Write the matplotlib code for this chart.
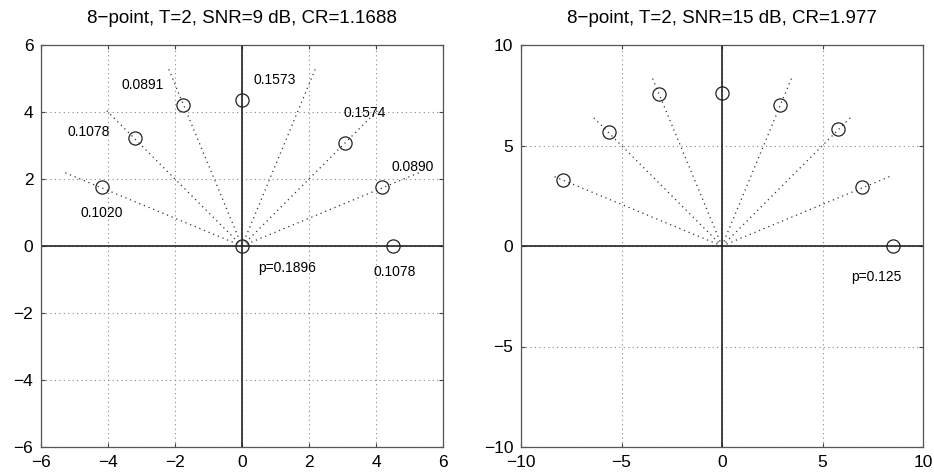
import numpy as np
import matplotlib
matplotlib.use("Agg")
import matplotlib.pyplot as plt

plt.rcParams['font.family'] = ['Liberation Sans', 'DejaVu Sans']
plt.rcParams['axes.unicode_minus'] = True

# left panel: SNR = 9 dB
left_x = [0.0, 4.5, 4.19, 3.06, 0.0, -1.75, -3.19, -4.17]
left_y = [0.0, 0.0, 1.75, 3.08, 4.36, 4.22, 3.21, 1.75]
left_ray_deg = [22.5, 45, 67.5, 112.5, 135, 157.5]
left_ray_len = 5.75
left_labels = ['p=0.1896', '0.1078', '0.0890', '0.1574', '0.1573', '0.0891', '0.1078', '0.1020']
left_lab_x = [1.35, 4.57, 5.11, 3.67, 0.99, -2.98, -4.59, -4.19]
left_lab_y = [-0.67, -0.77, 2.37, 3.98, 4.96, 4.81, 3.39, 0.98]
left_title = '8\u2212point, T=2, SNR=9 dB, CR=1.1688'

# right panel: SNR = 15 dB
right_x = [8.52, 6.98, 5.77, 2.89, 0.0, -3.12, -5.6, -7.9]
right_y = [0.0, 2.92, 5.8, 7.0, 7.6, 7.55, 5.66, 3.28]
right_ray_deg = [22.5, 45, 67.5, 112.5, 135, 157.5]
right_ray_len = 9.2
right_labels = ['p=0.125']
right_lab_x = [7.66]
right_lab_y = [-1.56]
right_title = '8\u2212point, T=2, SNR=15 dB, CR=1.977'


def panel(ax, xs, ys, rays, rlen, labels, lx, ly, title, lim, ticks):
    ax.set_xlim(-lim, lim)
    ax.set_ylim(-lim, lim)
    ax.set_xticks(ticks)
    ax.set_yticks(ticks)
    ax.grid(True, linestyle=(0, (1, 3)), color='#888888', linewidth=0.8)
    ax.set_axisbelow(True)
    for a in rays:
        t = np.radians(a)
        ax.plot([0, rlen * np.cos(t)], [0, rlen * np.sin(t)],
                linestyle=(0, (1, 3)), color='#333333', linewidth=0.9)
    ax.axhline(0, color='#222222', linewidth=1.2)
    ax.axvline(0, color='#222222', linewidth=1.2)
    ax.plot(xs, ys, 'o', mfc='none', mec='#222222', ms=9.5, mew=0.9)
    for s, x, y in zip(labels, lx, ly):
        ax.text(x, y, s, ha='center', va='center', fontsize=10)
    ax.set_title(title, fontsize=13.5, pad=16)
    ax.tick_params(direction='in', length=3, top=True, right=True,
                   labelsize=12.5, color='#444444', pad=5.5)
    for sp in ax.spines.values():
        sp.set_color('#555555')
        sp.set_linewidth(0.9)


fig = plt.figure(figsize=(9.34, 4.75), dpi=100)
ax1 = fig.add_axes([41 / 934, 28 / 475, 402 / 934, 402 / 475])
ax2 = fig.add_axes([521 / 934, 28 / 475, 402 / 934, 402 / 475])

panel(ax1, left_x, left_y, left_ray_deg, left_ray_len, left_labels,
      left_lab_x, left_lab_y, left_title, 6, [-6, -4, -2, 0, 2, 4, 6])
panel(ax2, right_x, right_y, right_ray_deg, right_ray_len, right_labels,
      right_lab_x, right_lab_y, right_title, 10, [-10, -5, 0, 5, 10])

fig.savefig('out.png', dpi=100)
